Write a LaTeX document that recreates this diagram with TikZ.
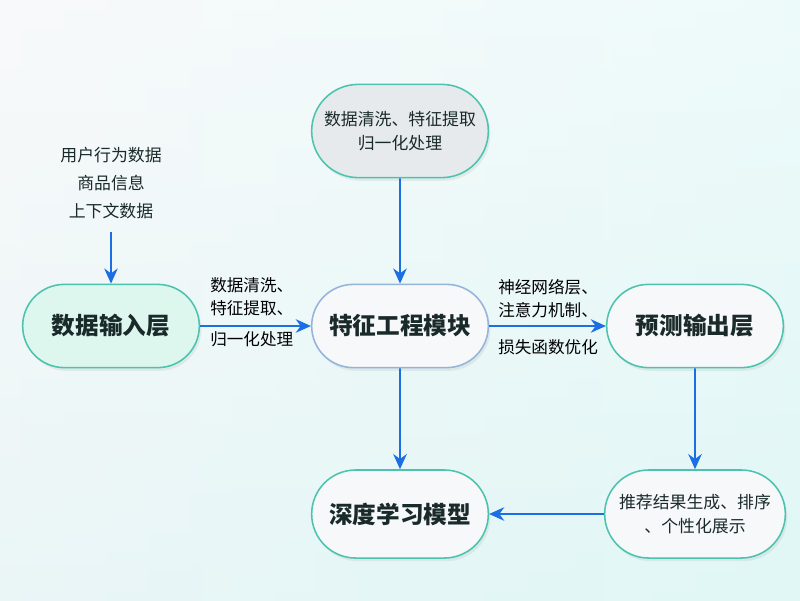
\documentclass[tikz,border=0pt]{standalone}
\usepackage{fontspec}
\setmainfont{Noto Sans CJK SC}
\usetikzlibrary{arrows.meta,shapes.misc,shadows}
\definecolor{arrowblue}{HTML}{1C6FE3}
\definecolor{tealline}{HTML}{4CC3AE}
\definecolor{blueline}{HTML}{94B4DA}
\definecolor{mintfill}{HTML}{DDF7EF}
\definecolor{greyfill}{HTML}{E7EAEC}
\definecolor{whitefill}{HTML}{F6F8F9}
\definecolor{inktext}{HTML}{1A2A2A}
\definecolor{bgleft}{HTML}{F3F5F7}
\definecolor{bgright}{HTML}{E0F7F6}
\tikzset{
  pill/.style={rounded rectangle, draw=tealline, line width=1.1pt, fill=whitefill,
    minimum width=4.65cm, minimum height=2.08cm, align=center, text=inktext,
    drop shadow={opacity=0.12, shadow xshift=0.5mm, shadow yshift=-0.8mm}},
  bigtext/.style={font=\fontsize{16.8}{20}\selectfont\bfseries},
  smalltext/.style={font=\fontsize{12}{17.5}\selectfont},
  labeltext/.style={font=\fontsize{11.8}{16.5}\selectfont, align=left, inner sep=0pt},
  flow/.style={draw=arrowblue, line width=1.2pt, -{Stealth[length=3.8mm,width=3.4mm]}}
}
\begin{document}
\begin{tikzpicture}[x=0.025cm, y=-0.025cm]
\shade[left color=bgleft, right color=bgright] (0,0) rectangle (800,600);
\shade[top color=white, bottom color=bgright, opacity=0.45] (0,0) rectangle (800,600);
\useasboundingbox (0,0) rectangle (800,600);

\node[pill, bigtext, fill=mintfill] (input) at (111,326) {数据输入层};
\node[pill, bigtext, draw=blueline] (feat) at (400,326) {特征工程模块};
\node[pill, bigtext] (pred) at (695,326) {预测输出层};
\node[pill, smalltext, fill=greyfill, minimum height=2.33cm] (clean) at (400,131) {数据清洗、特征提取\\归一化处理};
\node[pill, bigtext, minimum height=2.2cm] (dl) at (400,514) {深度学习模型};
\node[pill, smalltext, minimum height=2.2cm, minimum width=4.75cm] (reco) at (695,514) {推荐结果生成、排序\\、个性化展示};

\node[font=\fontsize{12}{19.8}\selectfont, align=center, text=inktext] (raw) at (111,183) {用户行为数据\\商品信息\\上下文数据};

\draw[flow] (raw.south) ++(0,8) coordinate (rawend) -- (input.north);
\draw[flow] (clean) -- (feat);
\draw[flow] (input) -- (feat);
\draw[flow] (feat) -- (pred);
\draw[flow] (feat) -- (dl);
\draw[flow] (pred) -- (reco);
\draw[flow] (reco) -- (dl);

\node[labeltext, anchor=south west] (lab1) at (210,316) {数据清洗、\\特征提取、};
\node[labeltext, anchor=north west] (lab2) at (210,331) {归一化处理};
\node[labeltext, anchor=south west] (lab3) at (498,318) {神经网络层、\\注意力机制、};
\node[labeltext, anchor=north west] (lab4) at (498,339) {损失函数优化};
\end{tikzpicture}
\end{document}
